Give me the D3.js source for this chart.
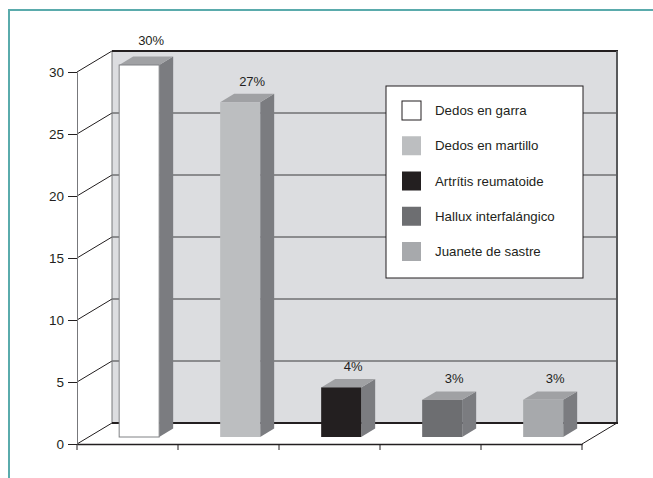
<!DOCTYPE html>
<html>
<head>
<meta charset="utf-8">
<script src="https://cdn.jsdelivr.net/npm/d3@7"></script>
<style>
  html, body { margin: 0; padding: 0; background: #fff; }
  svg { display: block; font-family: "Liberation Sans", Arial, sans-serif; }
</style>
</head>
<body>
<svg id="chart" width="653" height="478"></svg>
<script>
// Data
const categories = ["Dedos en garra", "Dedos en martillo", "Artrítis reumatoide", "Hallux interfalángico", "Juanete de sastre"];
const values = [30, 27, 4, 3, 3];
const valueLabels = ["30%", "27%", "4%", "3%", "3%"];
const yTicks = [0, 5, 10, 15, 20, 25, 30];
const frontColors = ["#ffffff", "#bcbec0", "#231f20", "#6d6e71", "#a7a9ac"];

const svg = d3.select("#chart");

// Layout of the pseudo-3D box
const plot = { left: 77, right: 582, top: 72, bottom: 444 };
const DX = 35, DY = 21;           // depth of the box
const barShift = 1 / 3;           // bars sit a third of the way into the box
const barW = 40, barDX = 14, barDY = 8.4;

const y = d3.scaleLinear().domain([0, 30]).range([plot.bottom, plot.top]);
const x = d3.scaleBand().domain(categories).range([plot.left, plot.right]);

// Outer frame (top and left edges)
svg.append("path")
  .attr("d", "M9,478 L9,10 L653,10")
  .attr("fill", "none").attr("stroke", "#5aabac").attr("stroke-width", 2);

// Back wall
const wallL = plot.left + DX, wallR = plot.right + DX;
const wallTop = y(30) - DY;
svg.append("rect")
  .attr("x", wallL).attr("y", wallTop)
  .attr("width", wallR - wallL).attr("height", y(0) - y(30))
  .attr("fill", "#dcdde0");

// Gridlines on back wall and matching diagonals on the side
const grid = svg.append("g");
yTicks.filter(t => t > 0 && t < 30).forEach(t => {
  grid.append("line")
    .attr("x1", wallL).attr("x2", wallR)
    .attr("y1", y(t) - DY).attr("y2", y(t) - DY)
    .attr("stroke", "#3a3a3c").attr("stroke-width", 1);
});
yTicks.forEach(t => {
  grid.append("line")
    .attr("x1", plot.left).attr("y1", y(t))
    .attr("x2", wallL).attr("y2", y(t) - DY)
    .attr("stroke", "#231f20").attr("stroke-width", 1);
});

// Wall edges
svg.append("line").attr("x1", wallL).attr("x2", wallL)
  .attr("y1", wallTop).attr("y2", y(0) - DY)
  .attr("stroke", "#77787b").attr("stroke-width", 1);
svg.append("line").attr("x1", wallL).attr("x2", wallR + 1)
  .attr("y1", wallTop).attr("y2", wallTop)
  .attr("stroke", "#231f20").attr("stroke-width", 2);
svg.append("line").attr("x1", wallR).attr("x2", wallR)
  .attr("y1", wallTop).attr("y2", y(0) - DY)
  .attr("stroke", "#58595b").attr("stroke-width", 2);
svg.append("line").attr("x1", wallL).attr("x2", wallR + 1)
  .attr("y1", y(0) - DY).attr("y2", y(0) - DY)
  .attr("stroke", "#231f20").attr("stroke-width", 2);

// Floor edges
svg.append("line").attr("x1", plot.right).attr("y1", y(0))
  .attr("x2", wallR).attr("y2", y(0) - DY)
  .attr("stroke", "#231f20").attr("stroke-width", 1);

// Y axis
const yAxis = d3.axisLeft(y).tickValues(yTicks).tickSize(9).tickPadding(4);
const gy = svg.append("g").attr("transform", `translate(${plot.left},0)`).call(yAxis);
gy.select(".domain").attr("stroke", "#77787b");
gy.selectAll(".tick line").attr("stroke", "#231f20");
gy.selectAll(".tick text").attr("font-size", 13.5).attr("fill", "#231f20")
  .attr("font-family", "'Liberation Sans', Arial, sans-serif");

// X baseline with category separators
const xAxis = d3.axisBottom(x).tickSize(0).tickFormat("");
const gx = svg.append("g").attr("transform", `translate(0,${plot.bottom})`).call(xAxis);
gx.select(".domain").attr("stroke", "#231f20").attr("stroke-width", 1.5);
const seps = [plot.left, ...categories.map(c => x(c) + x.bandwidth())];
gx.selectAll(".sep").data(seps).join("line").attr("class", "sep")
  .attr("x1", d => d).attr("x2", d => d).attr("y1", 0).attr("y2", 6)
  .attr("stroke", "#231f20");

// Bars
const sx = DX * barShift, sy = DY * barShift;
const bars = svg.append("g");
categories.forEach((c, i) => {
  const v = values[i];
  const x0 = x(c) + x.bandwidth() / 2 + sx - barW / 2;
  const x1 = x0 + barW;
  const yb = y(0) - sy;
  const yt = y(v) - sy;
  const g = bars.append("g");
  // side face
  g.append("path")
    .attr("d", `M${x1},${yb} L${x1 + barDX},${yb - barDY} L${x1 + barDX},${yt - barDY} L${x1},${yt} Z`)
    .attr("fill", "#7b7c80");
  // top face
  g.append("path")
    .attr("d", `M${x0},${yt} L${x0 + barDX},${yt - barDY} L${x1 + barDX},${yt - barDY} L${x1},${yt} Z`)
    .attr("fill", "#a0a1a4");
  // front face
  g.append("rect")
    .attr("x", x0).attr("y", yt).attr("width", barW).attr("height", yb - yt)
    .attr("fill", frontColors[i])
    .attr("stroke", i === 0 ? "#808285" : "none").attr("stroke-width", 1);
  // value label, lifted above the wall's top edge when it would sit on it
  let ly0 = yt - barDY - 8;
  if (ly0 > wallTop - 6 && ly0 < wallTop + 14) ly0 = wallTop - 6;
  g.append("text")
    .attr("x", x0 + barW / 2 + 12).attr("y", ly0)
    .attr("text-anchor", "middle").attr("font-size", 13)
    .attr("fill", "#231f20").text(valueLabels[i]);
});

// Legend
const legend = svg.append("g").attr("transform", "translate(386,86)");
legend.append("rect").attr("width", 197).attr("height", 192)
  .attr("fill", "#fff").attr("stroke", "#231f20").attr("stroke-width", 1);
const ly = d3.scalePoint().domain(categories).range([24.5, 165.5]);
categories.forEach((c, i) => {
  const cy = ly(c);
  legend.append("rect").attr("x", 16).attr("y", cy - 9.5).attr("width", 19).attr("height", 19)
    .attr("fill", frontColors[i])
    .attr("stroke", i === 0 ? "#231f20" : "none");
  legend.append("text").attr("x", 49).attr("y", cy).attr("dy", "0.35em")
    .attr("font-size", 13.3).attr("fill", "#231f20").text(c);
});
</script>
</body>
</html>
